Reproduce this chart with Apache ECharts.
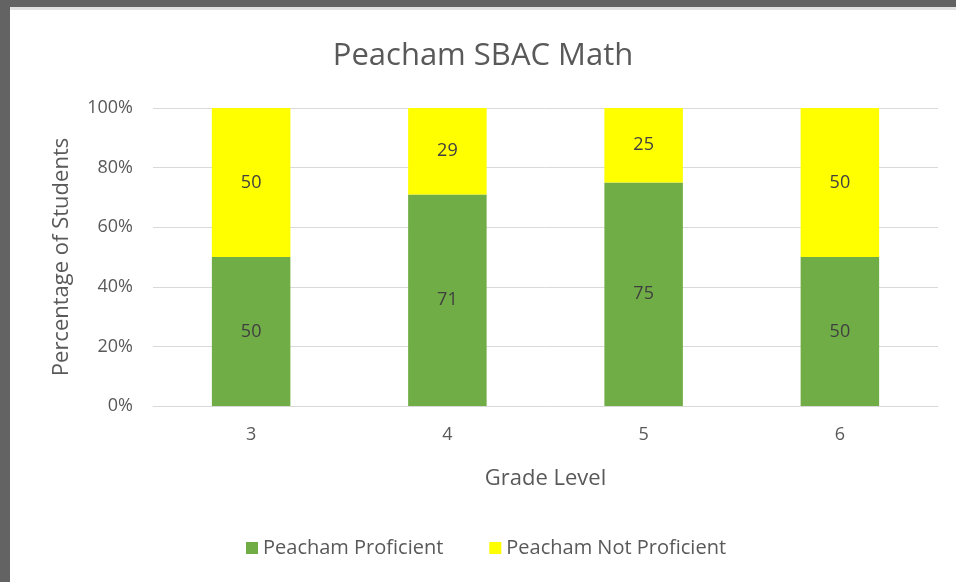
<!DOCTYPE html>
<html>
<head>
<meta charset="utf-8">
<script src="https://cdn.jsdelivr.net/npm/echarts@6/dist/echarts.min.js"></script>
<style>
  html, body { margin: 0; padding: 0; background: #636363; width: 956px; height: 582px; overflow: hidden; }
  #chart { position: absolute; left: 10px; top: 7px; width: 946px; height: 575px; background: #fff; border-top: 3px solid #e2e2e2; box-sizing: border-box; }
</style>
</head>
<body>
<div id="chart"></div>
<script>
var grades = ['3', '4', '5', '6'];
var proficient = [50, 71, 75, 50];
var notProficient = [50, 29, 25, 50];
var yTicks = [0, 20, 40, 60, 80, 100];

var myChart = echarts.init(document.getElementById('chart'));
var font = '"Open Sans", sans-serif';
var grey = '#595959';

var option = {
    animation: false,
    title: {
        text: 'Peacham SBAC Math',
        left: 'center',
        top: 26,
        textStyle: { color: grey, fontSize: 31, fontWeight: 'normal', fontFamily: font }
    },
    legend: {
        top: 523,
        left: 231,
        itemWidth: 12,
        itemHeight: 12,
        itemGap: 46,
        icon: 'rect',
        textStyle: { color: grey, fontSize: 20, fontFamily: font }
    },
    grid: { left: 143, right: 18, top: 98, bottom: 176 },
    xAxis: {
        type: 'category',
        data: grades,
        name: 'Grade Level',
        nameLocation: 'middle',
        nameGap: 62,
        nameTextStyle: { color: grey, fontSize: 22, fontFamily: font },
        axisLine: { lineStyle: { color: '#d9d9d9' } },
        axisTick: { show: false },
        axisLabel: { color: grey, fontSize: 18, fontFamily: font, margin: 20 }
    },
    yAxis: {
        type: 'value',
        min: yTicks[0],
        max: yTicks[yTicks.length - 1],
        interval: 20,
        name: 'Percentage of Students',
        nameLocation: 'middle',
        nameGap: 80,
        nameTextStyle: { color: grey, fontSize: 22, fontFamily: font },
        axisLabel: { color: grey, fontSize: 18, fontFamily: font, formatter: '{value}%', margin: 20 },
        splitLine: { lineStyle: { color: '#d9d9d9' } }
    },
    series: [
        {
            name: 'Peacham Proficient',
            type: 'bar',
            stack: 'total',
            data: proficient,
            barWidth: '40%',
            itemStyle: { color: '#70ad47' },
            label: { show: true, color: '#404040', fontSize: 18, fontFamily: font }
        },
        {
            name: 'Peacham Not Proficient',
            type: 'bar',
            stack: 'total',
            data: notProficient,
            barWidth: '40%',
            itemStyle: { color: '#ffff00' },
            label: { show: true, color: '#404040', fontSize: 18, fontFamily: font }
        }
    ]
};

myChart.setOption(option);
</script>
</body>
</html>
